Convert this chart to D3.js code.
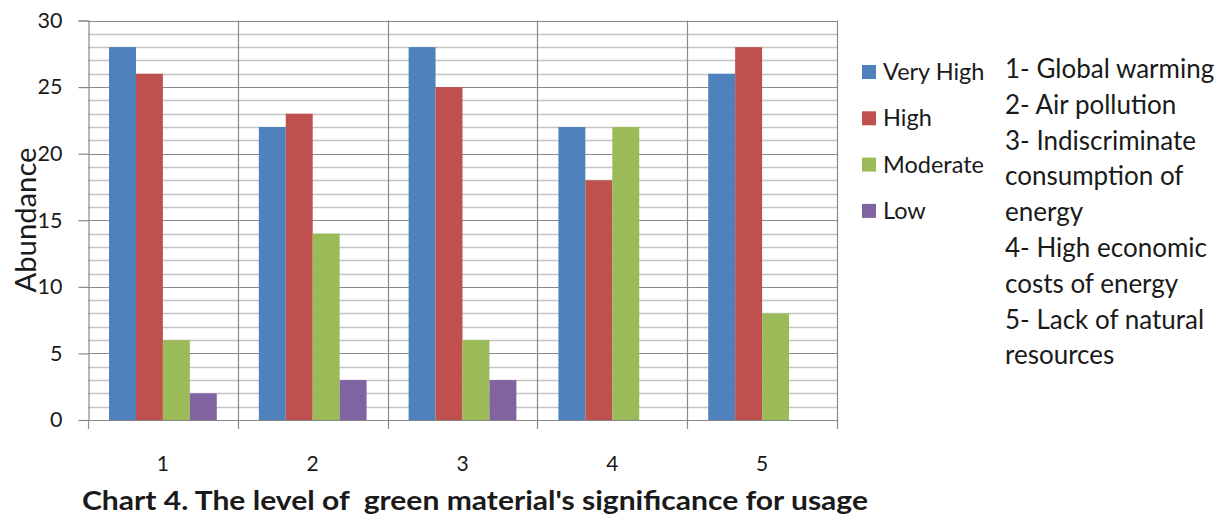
<!DOCTYPE html>
<html>
<head>
<meta charset="utf-8">
<script src="https://cdn.jsdelivr.net/npm/d3@7"></script>
<style>
  html, body { margin: 0; padding: 0; background: #fff; }
  svg { display: block; }
  text { font-family: Lato, "Open Sans", "DejaVu Sans", sans-serif; fill: #1a1a1a; }
</style>
</head>
<body>
<svg id="chart" width="1226" height="517"></svg>
<script>
// Survey responses per issue (1-5) for each significance level
const categories = ["1", "2", "3", "4", "5"];
const seriesNames = ["Very High", "High", "Moderate", "Low"];
const veryHigh = [28, 22, 28, 22, 26];
const high = [26, 23, 25, 18, 28];
const moderate = [6, 14, 6, 22, 8];
const low = [2, 3, 3, 0, 0];
const yTicks = [0, 5, 10, 15, 20, 25, 30];
const notes = [
  "1- Global warming",
  "2- Air pollution",
  "3- Indiscriminate",
  "consumption of",
  "energy",
  "4- High economic",
  "costs of energy",
  "5- Lack of natural",
  "resources"
];
const titleText = "Chart 4. The level of  green material's significance for usage";

const colors = ["#4F81BD", "#C0504D", "#9BBB59", "#8064A2"];
const seriesValues = [veryHigh, high, moderate, low];

const svg = d3.select("#chart");
const plot = { left: 88, right: 837, top: 20.5, bottom: 420 };

const x = d3.scaleBand().domain(categories).range([plot.left, plot.right]).paddingInner(0).paddingOuter(0);
const inner = d3.scaleBand().domain(seriesNames).range([0, x.bandwidth()]).paddingInner(0).paddingOuter(0.78);
const y = d3.scaleLinear().domain([0, 30]).range([plot.bottom, plot.top]);

// minor gridlines every unit
const minor = d3.range(1, 30).filter(v => v % 5 !== 0);
svg.append("g").selectAll("line").data(minor).join("line")
  .attr("x1", plot.left).attr("x2", plot.right)
  .attr("y1", d => Math.round(y(d)) + 0.5).attr("y2", d => Math.round(y(d)) + 0.5)
  .attr("stroke", "#c4c4c4").attr("stroke-width", 1.6);

// major gridlines
svg.append("g").selectAll("line").data(yTicks.filter(v => v > 0)).join("line")
  .attr("x1", plot.left).attr("x2", plot.right)
  .attr("y1", d => Math.round(y(d)) + 0.5).attr("y2", d => Math.round(y(d)) + 0.5)
  .attr("stroke", "#8a8a8a").attr("stroke-width", 1.2);

// vertical category separators
const bounds = categories.map(c => x(c)).concat([plot.right]);
svg.append("g").selectAll("line").data(bounds.slice(1)).join("line")
  .attr("x1", d => Math.round(d) + 0.5).attr("x2", d => Math.round(d) + 0.5)
  .attr("y1", plot.top).attr("y2", plot.bottom)
  .attr("stroke", "#8a8a8a").attr("stroke-width", 1.2);

// bars
const groups = svg.append("g").selectAll("g").data(categories).join("g")
  .attr("transform", d => `translate(${x(d)},0)`);
groups.selectAll("rect")
  .data((c, i) => seriesNames.map((s, j) => ({ s, j, v: seriesValues[j][i] })))
  .join("rect")
  .attr("x", d => inner(d.s))
  .attr("width", inner.bandwidth())
  .attr("y", d => y(d.v))
  .attr("height", d => y(0) - y(d.v))
  .attr("fill", d => colors[d.j]);

// y axis
const yAxis = d3.axisLeft(y).tickValues(yTicks).tickSize(10).tickPadding(16).tickFormat(d3.format("d"));
const ga = svg.append("g").attr("transform", `translate(${plot.left + 0.5},0)`).call(yAxis);
ga.select(".domain").attr("stroke", "#8a8a8a").attr("stroke-width", 1.2);
ga.selectAll(".tick line").attr("stroke", "#8a8a8a").attr("stroke-width", 1.2);
ga.selectAll(".tick text").attr("font-size", 21.5).attr("fill", "#1a1a1a")
  .style("font-family", "Lato, 'Open Sans', sans-serif");

// x axis with ticks at category boundaries
const xAxisLine = svg.append("g");
xAxisLine.append("line")
  .attr("x1", plot.left).attr("x2", plot.right + 1)
  .attr("y1", plot.bottom + 0.5).attr("y2", plot.bottom + 0.5)
  .attr("stroke", "#8a8a8a").attr("stroke-width", 1.2);
xAxisLine.selectAll("line.tk").data(bounds).join("line").attr("class", "tk")
  .attr("x1", d => Math.round(d) + 0.5).attr("x2", d => Math.round(d) + 0.5)
  .attr("y1", plot.bottom).attr("y2", plot.bottom + 9)
  .attr("stroke", "#8a8a8a").attr("stroke-width", 1.2);
svg.append("g").selectAll("text").data(categories).join("text")
  .attr("x", d => x(d) + x.bandwidth() / 2)
  .attr("y", 471)
  .attr("text-anchor", "middle")
  .attr("font-size", 21)
  .text(d => d);

// y axis title
svg.append("text")
  .attr("transform", `translate(36,220) rotate(-90)`)
  .attr("text-anchor", "middle")
  .attr("font-size", 28)
  .attr("textLength", 145).attr("lengthAdjust", "spacingAndGlyphs")
  .text("Abundance");

// chart title (keeps its double space)
svg.append("text")
  .attr("x", 82).attr("y", 510)
  .attr("font-size", 27).attr("font-weight", "bold")
  .style("white-space", "pre")
  .attr("textLength", 786).attr("lengthAdjust", "spacingAndGlyphs")
  .text(titleText);

// legend
const legend = svg.append("g").selectAll("g").data(seriesNames).join("g")
  .attr("transform", (d, i) => `translate(862,${65 + i * 46.3})`);
legend.append("rect").attr("width", 14).attr("height", 14).attr("fill", (d, i) => colors[i]);
legend.append("text").attr("x", 21).attr("y", 15).attr("font-size", 23.5).text(d => d);

// explanatory notes for the category numbers
svg.append("g").selectAll("text").data(notes).join("text")
  .attr("x", 1005)
  .attr("y", (d, i) => 78 + i * 35.8)
  .attr("font-size", 26)
  .text(d => d);
</script>
</body>
</html>
